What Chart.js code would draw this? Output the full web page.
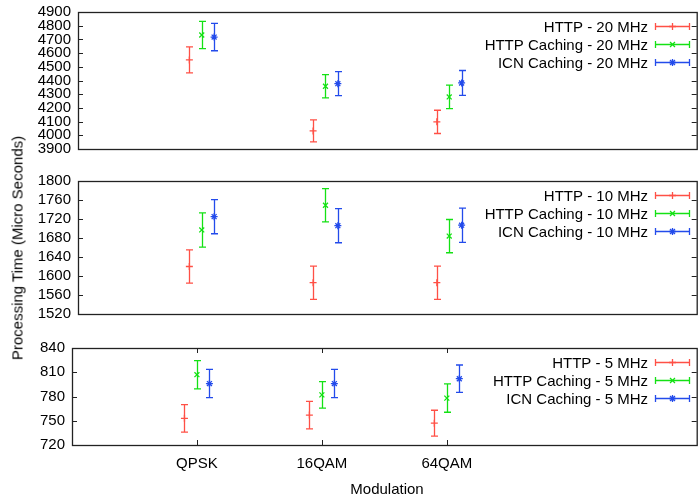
<!DOCTYPE html>
<html>
<head>
<meta charset="utf-8">
<script src="https://cdn.jsdelivr.net/npm/chart.js@4.4.0/dist/chart.umd.min.js"></script>
<style>
  html, body { margin: 0; padding: 0; background: #fff; width: 700px; height: 499px; overflow: hidden; }
  canvas { position: absolute; left: 0; }
  .axis-title { position: absolute; font: 15px "Liberation Sans", Arial, sans-serif; color: #000; white-space: nowrap; }
  #ytitle { left: 17px; top: 248px; transform: translate(-50%, -50%) rotate(-90deg); }
  #xtitle { left: 387px; top: 488px; transform: translate(-50%, -50%); }
</style>
</head>
<body>
<canvas id="panel20" width="702" height="175" style="top:-10px"></canvas>
<canvas id="panel10" width="702" height="165" style="top:165px"></canvas>
<canvas id="panel5" width="702" height="169" style="top:330px"></canvas>
<div id="ytitle" class="axis-title">Processing Time (Micro Seconds)</div>
<div id="xtitle" class="axis-title">Modulation</div>
<script>
const categories = ['QPSK', '16QAM', '64QAM'];

// 20 MHz
const http20 = [4550, 4032, 4098];
const http20Err = [95, 80, 85];
const httpCache20 = [4732, 4358, 4280];
const httpCache20Err = [100, 85, 86];
const icnCache20 = [4717, 4377, 4382];
const icnCache20Err = [100, 88, 91];
const yTicks20 = [3900, 4000, 4100, 4200, 4300, 4400, 4500, 4600, 4700, 4800, 4900];

// 10 MHz
const http10 = [1620, 1586, 1586];
const http10Err = [35, 35, 35];
const httpCache10 = [1697, 1749, 1684];
const httpCache10Err = [36, 35, 35];
const icnCache10 = [1725, 1706, 1707];
const icnCache10Err = [36, 36, 36];
const yTicks10 = [1520, 1560, 1600, 1640, 1680, 1720, 1760, 1800];

// 5 MHz
const http5 = [753, 757, 747];
const http5Err = [17, 17, 16];
const httpCache5 = [807, 782, 778];
const httpCache5Err = [17.5, 16.5, 17.5];
const icnCache5 = [796, 796, 802];
const icnCache5Err = [17.5, 17.5, 17];
const yTicks5 = [720, 750, 780, 810, 840];

const RED = 'rgb(255,80,70)';
const GREEN = 'rgb(20,225,20)';
const BLUE = 'rgb(35,75,235)';
const FONT = { family: '"Liberation Sans", Arial, sans-serif', size: 15 };

// error bars drawn under the markers
const errorBarPlugin = {
  id: 'errorBars',
  beforeDatasetsDraw(chart) {
    const ctx = chart.ctx;
    const xs = chart.scales.x, ys = chart.scales.y;
    ctx.save();
    chart.data.datasets.forEach(ds => {
      ctx.strokeStyle = ds.borderColor;
      ctx.lineWidth = 1.3;
      ds.data.forEach((p, i) => {
        const e = ds.errors[i];
        const x = Math.round(xs.getPixelForValue(p.x)) + 0.5;
        const y1 = ys.getPixelForValue(p.y + e);
        const y2 = ys.getPixelForValue(p.y - e);
        ctx.beginPath();
        ctx.moveTo(x, y1); ctx.lineTo(x, y2);
        ctx.moveTo(x - 3.5, y1); ctx.lineTo(x + 3.5, y1);
        ctx.moveTo(x - 3.5, y2); ctx.lineTo(x + 3.5, y2);
        ctx.stroke();
      });
    });
    ctx.restore();
  }
};

// gnuplot-style box with inward ticks, plus the key
const framePlugin = {
  id: 'frame',
  afterDraw(chart, args, opts) {
    const { ctx, chartArea: a, scales } = chart;
    ctx.save();
    ctx.strokeStyle = '#222';
    ctx.lineWidth = 1;
    ctx.beginPath();
    scales.y.ticks.forEach(t => {
      const y = Math.round(scales.y.getPixelForValue(t.value)) + 0.5;
      ctx.moveTo(a.left, y); ctx.lineTo(a.left + 5, y);
      ctx.moveTo(a.right, y); ctx.lineTo(a.right - 5, y);
    });
    if (opts.xTicks) {
      scales.x.ticks.forEach(t => {
        const x = Math.round(scales.x.getPixelForValue(t.value)) + 0.5;
        ctx.moveTo(x, a.bottom); ctx.lineTo(x, a.bottom - 5);
        ctx.moveTo(x, a.top); ctx.lineTo(x, a.top + 5);
      });
    }
    ctx.stroke();
    ctx.lineWidth = 1.3;
    ctx.strokeRect(Math.round(a.left) + 0.5, Math.round(a.top) + 0.5, a.right - a.left, a.bottom - a.top);

    // key
    ctx.font = FONT.size + 'px ' + FONT.family;
    ctx.textAlign = 'right';
    ctx.textBaseline = 'middle';
    chart.data.datasets.forEach((ds, i) => {
      const y = Math.round(a.top + 14 + i * 18) + 0.5;
      ctx.fillStyle = '#000';
      ctx.fillText(ds.label, 648, y + 1);
      ctx.strokeStyle = ds.borderColor;
      ctx.lineWidth = 1.3;
      ctx.beginPath();
      ctx.moveTo(655, y); ctx.lineTo(690, y);
      ctx.moveTo(655.5, y - 3.5); ctx.lineTo(655.5, y + 3.5);
      ctx.moveTo(689.5, y - 3.5); ctx.lineTo(689.5, y + 3.5);
      ctx.stroke();
      Chart.helpers.drawPoint(ctx, {
        pointStyle: ds.pointStyle, radius: ds.pointRadius, borderWidth: ds.pointBorderWidth, rotation: 0
      }, 672.5, y);
    });
    ctx.restore();
  }
};

function series(label, values, errors, offset, color, style) {
  return {
    label: label,
    data: categories.map((c, i) => ({ x: i + 1 + offset, y: values[i] })),
    errors: errors,
    borderColor: color,
    backgroundColor: color,
    pointBorderColor: color,
    pointStyle: style,
    pointRadius: 3.5,
    pointBorderWidth: 1.3,
    showLine: false
  };
}

function makePanel(id, datasets, yTicks, leftWidth, pad, showX) {
  const ctx = document.getElementById(id).getContext('2d');
  return new Chart(ctx, {
    type: 'scatter',
    data: { datasets: datasets },
    options: {
      responsive: false,
      animation: false,
      devicePixelRatio: 1,
      layout: { padding: pad },
      plugins: { legend: { display: false }, tooltip: { enabled: false }, frame: { xTicks: showX } },
      scales: {
        x: {
          type: 'linear',
          min: 0,
          max: 5,
          display: showX,
          afterBuildTicks: s => { s.ticks = categories.map((c, i) => ({ value: i + 1 })); },
          afterFit: s => { s.height = showX ? 30 : 0; },
          grid: { display: false, drawTicks: false },
          border: { display: false },
          ticks: {
            autoSkip: false, maxRotation: 0, padding: 10, color: '#000', font: FONT,
            callback: v => categories[v - 1]
          }
        },
        y: {
          min: yTicks[0],
          max: yTicks[yTicks.length - 1],
          afterBuildTicks: s => { s.ticks = yTicks.map(v => ({ value: v })); },
          afterFit: s => { s.width = leftWidth; },
          grid: { display: false, drawTicks: false },
          border: { display: false },
          ticks: { autoSkip: false, padding: 7, color: '#000', font: FONT, callback: v => String(v) }
        }
      }
    },
    plugins: [errorBarPlugin, framePlugin]
  });
}

makePanel('panel20', [
  series('HTTP - 20 MHz', http20, http20Err, -0.1, RED, 'cross'),
  series('HTTP Caching - 20 MHz', httpCache20, httpCache20Err, 0, GREEN, 'crossRot'),
  series('ICN Caching - 20 MHz', icnCache20, icnCache20Err, 0.1, BLUE, 'star')
], yTicks20, 78, { top: 22, right: 1, bottom: 14, left: 0 }, false);

makePanel('panel10', [
  series('HTTP - 10 MHz', http10, http10Err, -0.1, RED, 'cross'),
  series('HTTP Caching - 10 MHz', httpCache10, httpCache10Err, 0, GREEN, 'crossRot'),
  series('ICN Caching - 10 MHz', icnCache10, icnCache10Err, 0.1, BLUE, 'star')
], yTicks10, 78, { top: 15, right: 1, bottom: 10, left: 0 }, false);

makePanel('panel5', [
  series('HTTP - 5 MHz', http5, http5Err, -0.1, RED, 'cross'),
  series('HTTP Caching - 5 MHz', httpCache5, httpCache5Err, 0, GREEN, 'crossRot'),
  series('ICN Caching - 5 MHz', icnCache5, icnCache5Err, 0.1, BLUE, 'star')
], yTicks5, 72, { top: 18, right: 1, bottom: 24, left: 0 }, true);
</script>
</body>
</html>
